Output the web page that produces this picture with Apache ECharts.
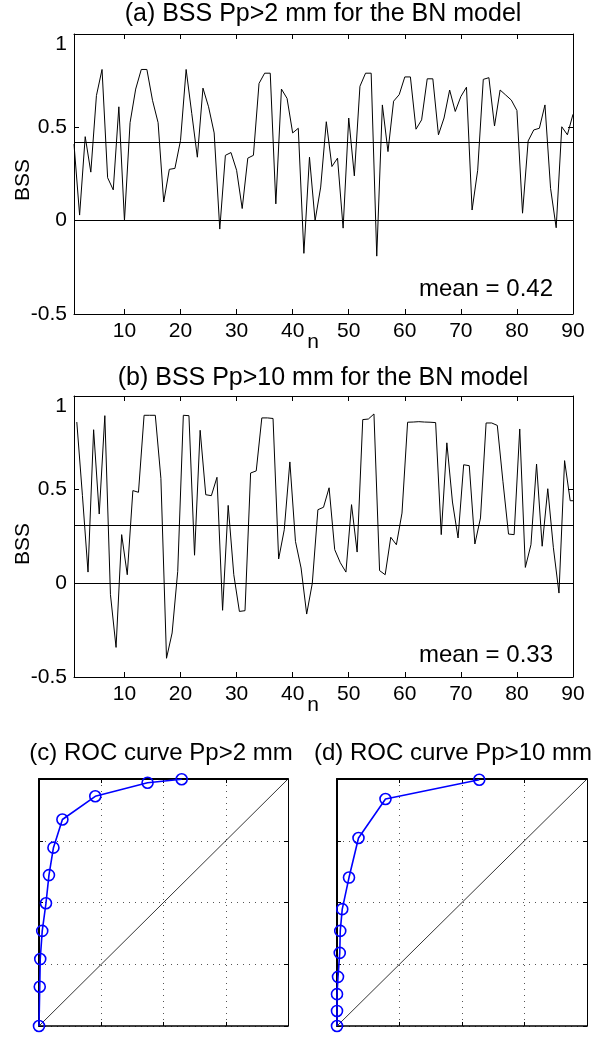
<!DOCTYPE html>
<html><head><meta charset="utf-8">
<script src="https://cdn.jsdelivr.net/npm/echarts@6/dist/echarts.min.js"></script>
<style>html,body{margin:0;padding:0;background:#fff}#c{width:610px;height:1037px}</style>
</head><body><div id="c"></div>
<script>
// ---- data ----
const bssA = [0.41,0.03,0.45,0.26,0.67,0.81,0.23,0.165,0.61,0.0,
  0.525,0.705,0.81,0.81,0.645,0.525,0.10,0.275,0.28,0.43,
  0.81,0.575,0.34,0.71,0.61,0.47,-0.045,0.35,0.365,0.27,
  0.065,0.335,0.35,0.735,0.79,0.79,0.09,0.705,0.655,0.47,
  0.495,-0.175,0.34,0.0,0.18,0.53,0.29,0.335,-0.04,0.55,
  0.24,0.72,0.79,0.79,-0.19,0.62,0.37,0.64,0.675,0.77,
  0.77,0.49,0.54,0.76,0.76,0.46,0.55,0.70,0.585,0.665,
  0.715,0.057,0.27,0.757,0.766,0.507,0.70,0.673,0.646,0.59,
  0.04,0.427,0.486,0.495,0.62,0.173,-0.038,0.503,0.46,0.57];
const bssB = [0.861,0.47,0.06,0.82,0.37,0.895,-0.06,-0.342,0.26,0.046,
  0.495,0.486,0.897,0.897,0.897,0.56,-0.40,-0.265,0.064,0.897,
  0.895,0.15,0.817,0.473,0.468,0.566,-0.144,0.416,0.046,-0.15,
  -0.146,0.589,0.60,0.883,0.883,0.88,0.13,0.286,0.648,0.224,
  0.082,-0.164,0.0,0.393,0.406,0.51,0.18,0.11,0.06,0.42,
  0.167,0.874,0.877,0.904,0.068,0.046,0.246,0.206,0.375,0.86,
  0.861,0.863,0.861,0.86,0.858,0.26,0.75,0.434,0.242,0.633,
  0.628,0.21,0.349,0.856,0.856,0.843,0.545,0.263,0.26,0.824,
  0.085,0.206,0.637,0.198,0.505,0.19,-0.052,0.655,0.441,0.441];
const meanA = 0.42, meanB = 0.31;
const meanTextA = 'mean = 0.42', meanTextB = 'mean = 0.33';
const xTicks = [10,20,30,40,50,60,70,80,90];
const rocC_far = [0,0.003,0.005,0.013,0.028,0.040,0.058,0.094,0.226,0.436,0.573];
const rocC_hit = [0,0.159,0.271,0.385,0.497,0.611,0.722,0.836,0.930,0.985,0.999];
const rocD_far = [0,0,0,0.004,0.011,0.013,0.021,0.048,0.086,0.194,0.569];
const rocD_hit = [0,0.061,0.129,0.199,0.296,0.385,0.473,0.601,0.761,0.919,0.997];
const diag = [[0,0],[1,1]];
const titles = ['(a) BSS Pp>2 mm for the BN model','(b) BSS Pp>10 mm for the BN model',
  '(c) ROC curve Pp>2 mm','(d) ROC curve Pp>10 mm'];
const yName = 'BSS', xName = 'n';

// ---- chart ----
const FONT = '"Liberation Sans", Arial, Helvetica, sans-serif';
const chart = echarts.init(document.getElementById('c'), null, {renderer:'canvas'});
const grids = [
  {left:74, top:34, width:499, height:280},
  {left:74, top:396, width:499, height:281},
  {left:39, top:779, width:249, height:247},
  {left:337, top:779, width:250, height:247}
];
const black = '#000';
function bssX(g, pos){
  const main = pos === 'bottom';
  return {type:'value', gridIndex:g, position:pos, min:1, max:90,
    axisLine:{show:true, onZero:false, lineStyle:{color:black, width:1}},
    axisTick:{show:true, inside:true, length:5, customValues:xTicks, lineStyle:{color:black}},
    axisLabel:{show:main, customValues:xTicks, color:black, fontSize:21, fontFamily:FONT, margin:7},
    splitLine:{show:false}};
}
function bssY(g, pos){
  const main = pos === 'left';
  return {type:'value', gridIndex:g, position:pos, min:-0.5, max:1, interval:0.5,
    axisLine:{show:true, onZero:false, lineStyle:{color:black, width:1}},
    axisTick:{show:true, inside:true, length:5, lineStyle:{color:black}},
    axisLabel:{show:main, color:black, fontSize:21, fontFamily:FONT, margin:7,
      verticalAlignMaxLabel:'top'},
    splitLine:{show:false}};
}
function rocAxis(g, pos, w){
  return {type:'value', gridIndex:g, position:pos, min:0, max:1, interval:0.25,
    axisLine:{show:true, onZero:false, lineStyle:{color:black, width:w}},
    axisTick:{show:true, inside:true, length:4, lineStyle:{color:black}},
    axisLabel:{show:false},
    splitLine:{show:(pos==='bottom'||pos==='left'), lineStyle:{color:'#555', width:1, type:[1,5]}}};
}
const xAxis = [bssX(0,'bottom'), bssX(0,'top'), bssX(1,'bottom'), bssX(1,'top'),
  rocAxis(2,'bottom',1.5), rocAxis(2,'top',2), rocAxis(3,'bottom',1.5), rocAxis(3,'top',2)];
const yAxis = [bssY(0,'left'), bssY(0,'right'), bssY(1,'left'), bssY(1,'right'),
  rocAxis(2,'left',2), rocAxis(2,'right',1), rocAxis(3,'left',2), rocAxis(3,'right',1)];

function hline(vals){
  return {silent:true, symbol:['none','none'], label:{show:false},
    lineStyle:{color:black, width:1, type:'solid'}, data: vals.map(v => ({yAxis:v}))};
}
const dataA = bssA.map((v,i) => [i+1, v]);
const dataB = bssB.map((v,i) => [i+1.5, v]);
const rocC = rocC_far.map((f,i) => [f, rocC_hit[i]]);
const rocD = rocD_far.map((f,i) => [f, rocD_hit[i]]);
const blue = '#0000ff';
const series = [
  {type:'line', xAxisIndex:0, yAxisIndex:0, data:dataA, symbol:'none',
    lineStyle:{color:black, width:1}, markLine:hline([0, meanA])},
  {type:'line', xAxisIndex:2, yAxisIndex:2, data:dataB, symbol:'none', clip:false,
    lineStyle:{color:black, width:1}, markLine:hline([0, meanB])},
  {type:'line', xAxisIndex:4, yAxisIndex:4, data:diag, symbol:'none', lineStyle:{color:black, width:0.8}},
  {type:'line', xAxisIndex:4, yAxisIndex:4, data:rocC, symbol:'circle', symbolSize:11, clip:false,
    lineStyle:{color:blue, width:1.6}, itemStyle:{color:'rgba(0,0,0,0)', borderColor:blue, borderWidth:1.6}},
  {type:'line', xAxisIndex:6, yAxisIndex:6, data:diag, symbol:'none', lineStyle:{color:black, width:0.8}},
  {type:'line', xAxisIndex:6, yAxisIndex:6, data:rocD, symbol:'circle', symbolSize:11, clip:false,
    lineStyle:{color:blue, width:1.6}, itemStyle:{color:'rgba(0,0,0,0)', borderColor:blue, borderWidth:1.6}}
];
function txt(t, x, y, size, align, rot){
  return {type:'text', x:x, y:y, rotation:rot||0, style:{text:t, fill:black, fontSize:size, fontFamily:FONT,
    align:align||'center', verticalAlign:'middle'}};
}
const graphic = [
  txt(titles[0], 323, 14, 25), txt(titles[1], 323, 378, 25),
  txt(titles[2], 161, 753, 24), txt(titles[3], 453, 753, 24),
  txt(meanTextA, 553, 289, 24, 'right'), txt(meanTextB, 553, 655, 24, 'right'),
  txt(yName, 23, 180, 21, 'center', Math.PI/2), txt(yName, 23, 544, 21, 'center', Math.PI/2),
  txt(xName, 313, 342, 21), txt(xName, 313, 705, 21)
];
chart.setOption({backgroundColor:'#fff', animation:false, grid:grids, xAxis:xAxis, yAxis:yAxis,
  series:series, graphic:graphic});
</script></body></html>
